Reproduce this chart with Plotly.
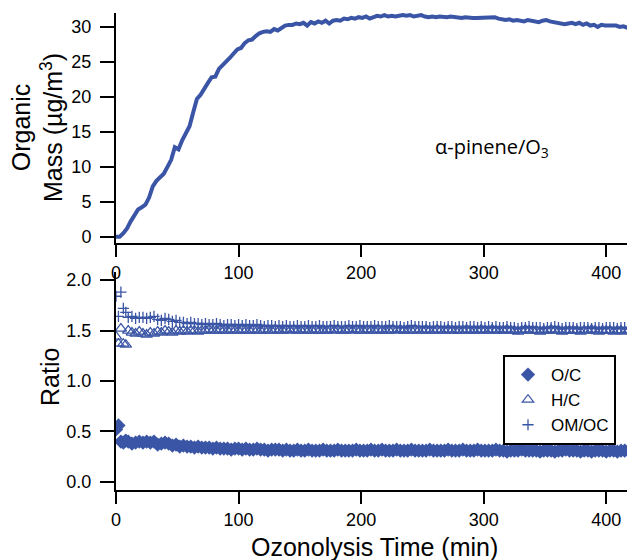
import plotly.graph_objects as go
from plotly.subplots import make_subplots

BLUE = "rgb(58,85,165)"

# ---- Organic mass (top panel) ----
mass_time = list(range(0, 421, 3))
mass = [
    0.0, 0.0, 0.5, 1.2, 2.2, 3.0, 3.9, 4.2, 4.6, 5.6,
    7.2, 8.0, 8.5, 9.0, 10.0, 11.0, 12.8, 12.5, 13.8, 14.8,
    15.8, 17.8, 19.7, 20.3, 21.3, 22.0, 22.8, 22.9, 24.0, 24.5,
    25.1, 25.6, 26.2, 26.8, 27.0, 27.7, 28.1, 28.2, 28.7, 29.1,
    29.3, 29.4, 29.3, 29.7, 29.5, 29.9, 30.2, 30.3, 30.3, 30.5,
    30.4, 30.6, 30.2, 30.7, 30.5, 30.8, 30.6, 30.9, 30.5, 30.9,
    31.0, 30.9, 31.2, 31.1, 31.3, 31.2, 31.4, 31.3, 31.5, 31.2,
    31.4, 31.6, 31.5, 31.7, 31.5, 31.6, 31.5, 31.6, 31.7, 31.6,
    31.7, 31.5, 31.6, 31.7, 31.5, 31.4, 31.5, 31.4, 31.5, 31.4,
    31.4, 31.5, 31.4, 31.4, 31.3, 31.4, 31.3, 31.3, 31.3, 31.3,
    31.3, 31.4, 31.3, 31.4, 31.2, 31.1, 31.0, 31.1, 30.9, 31.0,
    30.9, 30.8, 31.0, 30.9, 30.8, 30.7, 30.9, 31.0, 30.8, 30.7,
    30.6, 30.5, 30.4, 30.5, 30.6, 30.4, 30.6, 30.3, 30.5, 30.2,
    30.3, 30.0, 30.3, 30.2, 30.2, 30.1, 30.2, 30.0, 30.1, 29.9,
    30.1,
]

# ---- Elemental ratios (bottom panel) ----
ratio_time = [0, 2, 4, 6, 8] + list(range(10, 421, 3))
oc = [
    0.52, 0.56, 0.40, 0.39, 0.41,
    0.40, 0.38, 0.39, 0.40, 0.39, 0.40, 0.39, 0.40, 0.37, 0.38, 0.39,
    0.38, 0.36, 0.37, 0.35, 0.36, 0.35, 0.35, 0.34, 0.35, 0.34,
    0.34, 0.34, 0.33, 0.34, 0.33, 0.33, 0.33, 0.32, 0.33, 0.33,
    0.32, 0.33, 0.32, 0.32, 0.33, 0.32, 0.32, 0.31, 0.32, 0.32,
    0.32, 0.31, 0.32, 0.31, 0.31, 0.32, 0.31, 0.31, 0.32, 0.31,
    0.31, 0.31, 0.32, 0.31, 0.31, 0.31, 0.32, 0.31, 0.31, 0.31,
    0.31, 0.32, 0.31, 0.31, 0.31, 0.32, 0.31, 0.31, 0.32, 0.31,
    0.31, 0.31, 0.32, 0.31, 0.31, 0.31, 0.32, 0.31, 0.31, 0.31,
    0.31, 0.32, 0.31, 0.31, 0.31, 0.31, 0.32, 0.31, 0.31, 0.31,
    0.32, 0.31, 0.31, 0.31, 0.32, 0.31, 0.31, 0.31, 0.31, 0.32,
    0.31, 0.31, 0.30, 0.31, 0.31, 0.31, 0.32, 0.31, 0.31, 0.31,
    0.31, 0.30, 0.31, 0.31, 0.31, 0.30, 0.31, 0.31, 0.32, 0.31,
    0.31, 0.31, 0.30, 0.31, 0.31, 0.30, 0.31, 0.31, 0.31, 0.30,
    0.31, 0.31, 0.30, 0.31, 0.31, 0.31,
]
hc = [
    1.44, 1.37, 1.52, 1.37, 1.36,
    1.50, 1.48, 1.47, 1.49, 1.47, 1.46, 1.48, 1.47, 1.49, 1.48, 1.50,
    1.49, 1.48, 1.50, 1.49, 1.50, 1.49, 1.50, 1.50, 1.49, 1.50,
    1.50, 1.51, 1.50, 1.50, 1.51, 1.50, 1.50, 1.51, 1.50, 1.50,
    1.51, 1.50, 1.50, 1.51, 1.50, 1.50, 1.51, 1.50, 1.50, 1.51,
    1.50, 1.50, 1.51, 1.50, 1.51, 1.50, 1.50, 1.51, 1.50, 1.50,
    1.51, 1.50, 1.50, 1.50, 1.51, 1.50, 1.51, 1.50, 1.50, 1.51,
    1.50, 1.51, 1.50, 1.50, 1.51, 1.50, 1.50, 1.51, 1.50, 1.50,
    1.50, 1.51, 1.50, 1.51, 1.50, 1.50, 1.50, 1.51, 1.50, 1.50,
    1.51, 1.50, 1.50, 1.51, 1.50, 1.50, 1.51, 1.50, 1.50, 1.50,
    1.50, 1.51, 1.50, 1.50, 1.50, 1.51, 1.50, 1.50, 1.51, 1.50,
    1.50, 1.50, 1.51, 1.50, 1.50, 1.49, 1.50, 1.51, 1.50, 1.50,
    1.50, 1.49, 1.50, 1.50, 1.51, 1.50, 1.50, 1.49, 1.50, 1.50,
    1.50, 1.50, 1.49, 1.50, 1.50, 1.51, 1.50, 1.49, 1.50, 1.50,
    1.50, 1.49, 1.50, 1.50, 1.49, 1.50,
]
omoc = [
    1.84, 1.64, 1.88, 1.72, 1.68,
    1.63, 1.64, 1.62, 1.63, 1.63, 1.62, 1.63, 1.64, 1.61, 1.60, 1.62,
    1.61, 1.59, 1.60, 1.58, 1.58, 1.57, 1.58, 1.57, 1.57, 1.56,
    1.57, 1.56, 1.56, 1.57, 1.56, 1.55, 1.56, 1.56, 1.55, 1.56,
    1.55, 1.56, 1.55, 1.55, 1.56, 1.55, 1.54, 1.55, 1.55, 1.54,
    1.55, 1.54, 1.55, 1.54, 1.54, 1.55, 1.54, 1.54, 1.55, 1.54,
    1.54, 1.55, 1.54, 1.54, 1.54, 1.55, 1.54, 1.54, 1.54, 1.55,
    1.54, 1.54, 1.55, 1.54, 1.54, 1.54, 1.55, 1.54, 1.54, 1.54,
    1.55, 1.54, 1.54, 1.54, 1.53, 1.54, 1.55, 1.54, 1.54, 1.54,
    1.54, 1.53, 1.54, 1.54, 1.54, 1.53, 1.54, 1.54, 1.53, 1.54,
    1.54, 1.53, 1.54, 1.54, 1.53, 1.54, 1.53, 1.54, 1.53, 1.54,
    1.53, 1.53, 1.54, 1.53, 1.53, 1.52, 1.53, 1.53, 1.54, 1.53,
    1.53, 1.53, 1.52, 1.53, 1.53, 1.54, 1.53, 1.52, 1.53, 1.53,
    1.53, 1.52, 1.53, 1.53, 1.53, 1.52, 1.53, 1.53, 1.52, 1.53,
    1.53, 1.53, 1.52, 1.53, 1.53, 1.52,
]

x_ticks = [0, 100, 200, 300, 400]
mass_ticks = [0, 5, 10, 15, 20, 25, 30]
ratio_ticks = [0.0, 0.5, 1.0, 1.5, 2.0]

FONT = "Liberation Sans, Arial, Helvetica, sans-serif"
TITLE_FONT = dict(size=25, family=FONT, color="black")

fig = make_subplots(rows=2, cols=1, shared_xaxes=False)

fig.add_trace(go.Scatter(x=mass_time, y=mass, mode="lines",
                         line=dict(color=BLUE, width=4), showlegend=False),
              row=1, col=1)

fig.add_trace(go.Scatter(x=ratio_time, y=oc, mode="markers", name="O/C",
                         marker=dict(symbol="diamond", size=11, color=BLUE,
                                     line=dict(width=0))),
              row=2, col=1)
fig.add_trace(go.Scatter(x=ratio_time, y=hc, mode="markers", name="H/C",
                         marker=dict(symbol="triangle-up-open", size=10, color=BLUE,
                                     line=dict(width=1.2, color=BLUE))),
              row=2, col=1)
fig.add_trace(go.Scatter(x=ratio_time, y=omoc, mode="markers", name="OM/OC",
                         marker=dict(symbol="cross-thin-open", size=8, color=BLUE,
                                     line=dict(width=1.3, color=BLUE))),
              row=2, col=1)

axis_common = dict(showline=True, linewidth=2, linecolor="black", ticks="outside",
                   tickwidth=2, tickcolor="black", showgrid=False, zeroline=False,
                   automargin=False,
                   tickfont=dict(size=18, color="black", family=FONT))

fig.update_xaxes(range=[0, 421], tickvals=x_ticks, ticklen=12,
                 ticklabelstandoff=0, **axis_common)
fig.update_yaxes(ticklen=14, ticklabelstandoff=5, **axis_common)

# The page body adds an 8 px offset, so the figure is 8 px smaller
# and its left/top margins are 8 px narrower.
fig.update_layout(
    xaxis=dict(domain=[0, 1]),
    yaxis=dict(domain=[0.5178, 1], range=[-0.9, 32], tickvals=mass_ticks),
    xaxis2=dict(domain=[0, 1]),
    yaxis2=dict(domain=[0, 0.457], range=[-0.08, 2.08], tickvals=ratio_ticks,
                tickformat=".1f"),
    width=627, height=552,
    margin=dict(l=108, r=3, t=5, b=70, autoexpand=False),
    plot_bgcolor="white", paper_bgcolor="white",
    font=dict(family=FONT, color="black"),
    legend=dict(x=0.75, y=0.283, xanchor="left", yanchor="top",
                bordercolor="black", borderwidth=2, bgcolor="white",
                font=dict(size=17, family=FONT, color="black"),
                tracegroupgap=0, itemsizing="trace", itemwidth=36),
    annotations=[
        dict(text="α-pinene/O<sub>3</sub>", x=0.729, y=0.717,
             xref="paper", yref="paper", showarrow=False,
             xanchor="center", yanchor="middle",
             font=dict(size=20, family="Open Sans, Noto Sans, sans-serif",
                       color="black")),
        dict(text="Organic<br>Mass (µg/m<sup>3</sup>)", x=-0.1531, y=0.7589,
             xref="paper", yref="paper", showarrow=False, textangle=-90,
             xanchor="center", yanchor="middle", font=TITLE_FONT),
        dict(text="Ratio", x=-0.1279, y=0.2369,
             xref="paper", yref="paper", showarrow=False, textangle=-90,
             xanchor="center", yanchor="middle", font=TITLE_FONT),
        dict(text="Ozonolysis Time (min)", x=0.5, y=-0.1195,
             xref="paper", yref="paper", showarrow=False,
             xanchor="center", yanchor="middle", font=TITLE_FONT),
    ],
)

fig.write_html("out.html")
